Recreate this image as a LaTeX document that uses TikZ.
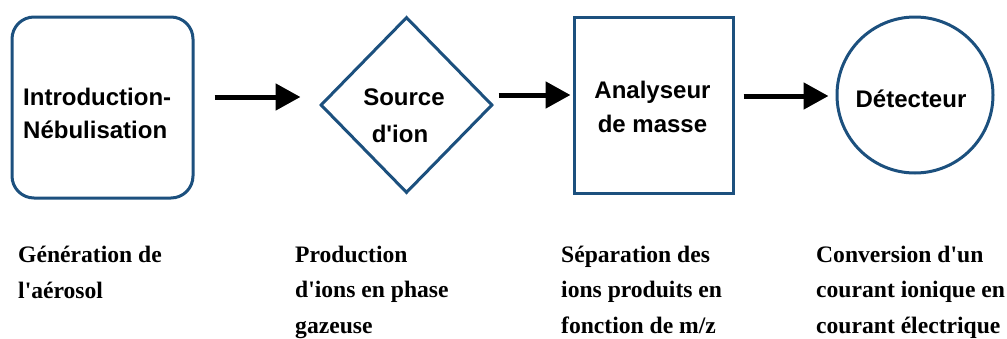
\documentclass[tikz,border=0pt]{standalone}
\usepackage{fontspec}
\setmainfont{Liberation Serif}[Ligatures=TeXOff]
\newfontfamily\hv{Liberation Sans}
\usetikzlibrary{shapes.geometric,arrows.meta}
\definecolor{bordblue}{RGB}{28,80,126}
\tikzset{
  shapebox/.style={draw=bordblue, line width=3pt, inner sep=0pt},
  flowarrow/.style={line width=5pt, -{Triangle[length=25pt,width=26pt]}},
  boxtext/.style={inner sep=0pt, font=\hv\bfseries\fontsize{24}{35}\selectfont},
  desc/.style={inner sep=0pt, anchor=base west, align=left, font=\bfseries\fontsize{23.6}{35.5}\selectfont}
}
\begin{document}
\begin{tikzpicture}[x=1pt,y=-1pt]
\useasboundingbox (0,0) rectangle (1007,338);
% shapes
\node[shapebox, rectangle, rounded corners=22pt, minimum width=181pt, minimum height=181pt] (s1) at (102.5,107.5) {};
\node[shapebox, diamond, minimum width=172pt, minimum height=176pt] (s2) at (406.5,105) {};
\node[shapebox, rectangle, minimum width=159pt, minimum height=176pt] (s3) at (653.5,105) {};
\node[shapebox, circle, minimum size=156pt] (s4) at (915,95) {};
% shape texts
\node[boxtext, anchor=base west] (t1a) at (23,105) {Introduction-};
\node[boxtext, anchor=base west] (t1b) at (23,138) {Nébulisation};
\node[boxtext, anchor=base] (t2a) at (404,105) {Source};
\node[boxtext, anchor=base] (t2b) at (400,142) {d'ion};
\node[boxtext, anchor=base] (t3a) at (652.5,98) {Analyseur};
\node[boxtext, anchor=base] (t3b) at (652.5,132) {de masse};
\node[boxtext, anchor=base] (t4) at (911,107) {Détecteur};
% arrows
\draw[flowarrow] ([shift={(20,-10.5)}]s1.east) -- ([shift={(-18.5,-8)}]s2.west);
\draw[flowarrow] ([shift={(4.5,-10)}]s2.east) -- ([shift={(-2,-10)}]s3.west);
\draw[flowarrow] ([shift={(9,-9)}]s3.east) -- ([shift={(-7,1)}]s4.west);
% descriptions (base anchor = baseline of last line)
\node[desc] (d1) at (18,298) {Génération de\\l'aérosol};
\node[desc] (d2) at (295,333) {Production\\d'ions en phase\\gazeuse};
\node[desc] (d3) at (561,333) {Séparation des\\ions produits en\\fonction de m/z};
\node[desc] (d4) at (816,333) {Conversion d'un\\courant ionique en\\courant électrique};
\end{tikzpicture}
\end{document}
